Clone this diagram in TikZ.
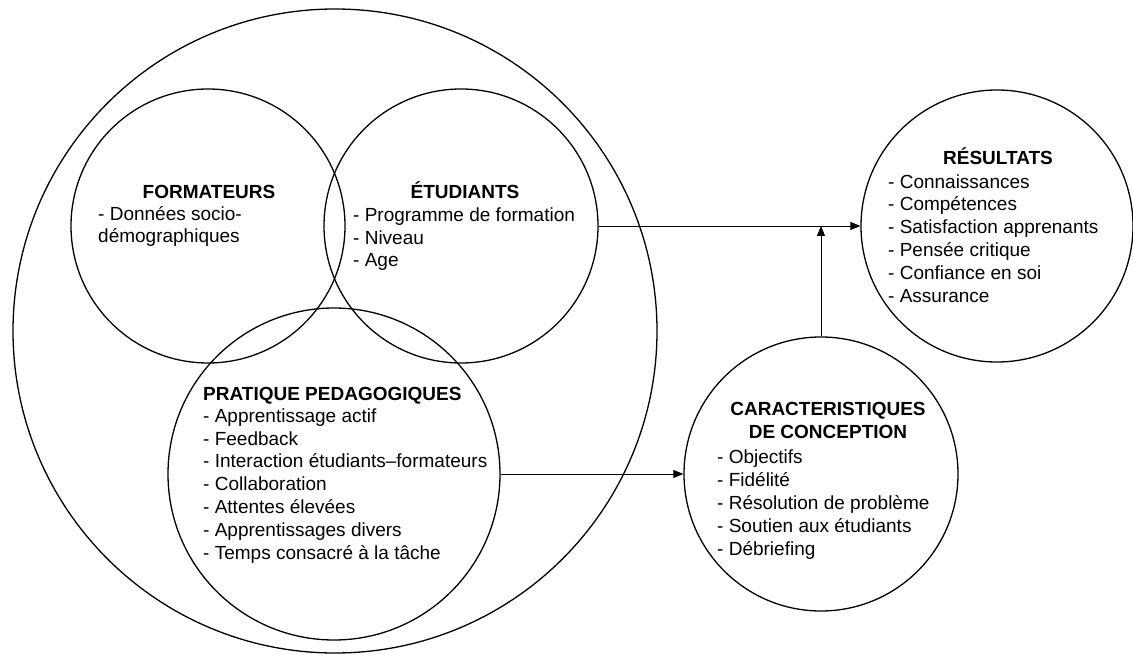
\documentclass[tikz,border=0pt]{standalone}
\usepackage{fontspec}
\setmainfont{Liberation Sans}
\usetikzlibrary{positioning,calc}
\usetikzlibrary{arrows.meta}

\tikzset{
  ring/.style={draw, circle, inner sep=0pt, line width=1.3pt},
  head/.style={font=\fontsize{19}{22.8}\selectfont\bfseries, inner sep=0pt, anchor=base},
  items/.style={font=\fontsize{19}{22.8}\selectfont, align=left, inner sep=0pt, anchor=base west},
  link/.style={line width=0.8pt, -{Triangle[length=10pt,width=8pt]}}
}

\begin{document}
\begin{tikzpicture}[x=1pt,y=-1pt]
   \useasboundingbox (0,0) rectangle (1133,655);

   % outer circle
   \node[ring, minimum size=644pt] (big) at (335,331) {};

   % formateurs, etudiants, pratiques
   \node[ring, minimum size=274pt] (frm) at (208,226) {};
   \node[ring, minimum size=274pt] (etu) at (461,226) {};
   \node[ring, minimum size=332pt] (ped) at (334,474) {};

   % conception and resultats
   \node[ring, minimum size=274pt] (car) at (821,474) {};
   \node[ring, minimum size=272pt] (res) at (997,226) {};

   % texts (multi-line nodes sit on their last baseline)
   \node[head] (frmT) at (209,199) {FORMATEURS};
   \node[items] (frmL) at (98,243) {- Données socio-\\démographiques};

   \node[head] (etuT) at (465,199) {ÉTUDIANTS};
   \node[items] (etuL) at (353,267) {- Programme de formation\\- Niveau\\- Age};

   \node[head, anchor=base west] (pedT) at (203,400) {PRATIQUE PEDAGOGIQUES};
   \node[items] (pedL) at (203,559) {- Apprentissage actif\\- Feedback\\
      - Interaction étudiants–formateurs\\- Collaboration\\- Attentes élevées\\
      - Apprentissages divers\\- Temps consacré à la tâche};

   \node[head, align=center] (carT) at (828,438) {CARACTERISTIQUES\\DE CONCEPTION};
   \node[items] (carL) at (717,555) {- Objectifs\\- Fidélité\\- Résolution de problème\\
      - Soutien aux étudiants\\- Débriefing};

   \node[head] (resT) at (998,165) {RÉSULTATS};
   \node[items] (resL) at (888,302) {- Connaissances\\- Compétences\\- Satisfaction apprenants\\
      - Pensée critique\\- Confiance en soi\\- Assurance};

   % arrows
   \draw[link] (etu.east) -- (res.west);
   \draw[link] (car.north) -- (car.north |- res.west);
   \draw[link] (ped.east) -- (car.west);
\end{tikzpicture}
\end{document}
